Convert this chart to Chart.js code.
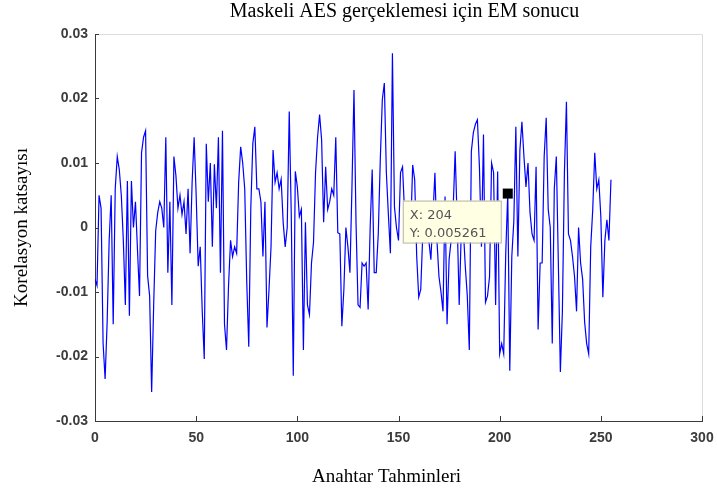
<!DOCTYPE html>
<html>
<head>
<meta charset="utf-8">
<title>Maskeli AES EM sonucu</title>
<script src="https://cdn.jsdelivr.net/npm/chart.js@4.4.0/dist/chart.umd.min.js"></script>
<style>
  body { margin: 0; background: #fff; }
  #em-chart { display: block; }
</style>
</head>
<body>
<canvas id="em-chart" width="717" height="492"></canvas>
<script>
// correlation for each key guess (0..255)
const korelasyon = [
  -0.008, -0.009, 0.005, 0.003, -0.018, -0.0235, -0.0147, -0.002, 0.005, -0.015, 0.006, 0.011, 0.009, 0.005, -0.002, -0.012,
  0.0072, -0.0137, 0.0072, 0.000, 0.004, -0.0035, -0.0106, 0.0116, 0.014, 0.015, -0.0075, -0.0106, -0.0255, -0.012, -0.0005, 0.0023,
  0.004, 0.003, 0.000, 0.014, -0.007, 0.004, -0.012, 0.011, 0.008, 0.003, 0.005, 0.002, 0.004, -0.001, 0.006, -0.004,
  0.007, 0.014, 0.005, -0.006, -0.003, -0.013, -0.0204, 0.013, 0.004, 0.010, -0.003, 0.0098, 0.003, 0.014, -0.007, 0.015,
  -0.015, -0.019, -0.009, -0.002, -0.0045, -0.003, -0.004, 0.007, 0.0125, 0.010, 0.006, -0.0085, -0.0185, 0.003, 0.013, 0.0156,
  0.006, 0.006, 0.004, -0.0045, 0.004, -0.0155, -0.0096, -0.003, 0.012, 0.007, 0.0085, 0.006, 0.0075, 0.0008, -0.003, 0.000,
  0.018, 0.002, -0.023, 0.0087, 0.0063, 0.0017, 0.0028, -0.019, 0.0008, -0.012, -0.0135, -0.0055, -0.0023, 0.0085, 0.014, 0.0175,
  0.0136, 0.0008, 0.0094, 0.0028, 0.004, 0.006, 0.005, 0.014, -0.0008, -0.001, -0.0153, -0.0096, 0.000, -0.003, -0.007, 0.0063,
  0.0213, 0.0008, -0.012, -0.0124, -0.0055, -0.006, -0.0055, -0.0127, 0.000, 0.009, -0.007, -0.007, -0.001, 0.0105, 0.0198, 0.0224,
  0.0085, 0.002, -0.004, 0.027, 0.0032, 0.000, -0.002, 0.0085, 0.0094, 0.0023, -0.001, 0.000, -0.001, 0.0097, 0.0074, -0.0045,
  -0.0108, -0.0096, -0.001, 0.0017, 0.000, -0.002, -0.005, 0.0017, 0.0085, -0.002, -0.0076, -0.010, -0.013, 0.0048, -0.015, -0.005,
  -0.002, 0.0028, 0.0118, 0.001, -0.012, -0.001, 0.000, -0.006, -0.0106, -0.019, 0.0118, 0.0147, 0.016, 0.0167, 0.0094, -0.003,
  0.0144, -0.0116, -0.0106, -0.0076, 0.010, 0.0085, -0.012, 0.0087, -0.0196, -0.018, -0.0196, -0.004, 0.005261, -0.0222, -0.0045, 0.001,
  0.0156, -0.0045, 0.012, 0.0164, 0.011, 0.0063, 0.010, 0.0023, -0.001, -0.002, 0.0094, -0.0158, -0.0055, -0.0055, 0.011, 0.017,
  0.0028, 0.000, -0.018, 0.006, 0.011, -0.0055, -0.0224, -0.013, 0.0085, 0.0195, -0.001, -0.002, -0.0045, -0.0076, -0.013, 0.000,
  -0.0055, -0.008, -0.0147, -0.018, -0.0196, -0.003, 0.0028, 0.0116, 0.006, 0.0074, 0.0017, -0.0108, -0.002, 0.0012, -0.002, 0.0074
];

const xTicks = [0, 50, 100, 150, 200, 250, 300];
const yTicks = [-0.03, -0.02, -0.01, 0, 0.01, 0.02, 0.03];

const chartTitle = 'Maskeli AES gerçeklemesi için EM sonucu';
const xTitle = 'Anahtar Tahminleri';
const yTitle = 'Korelasyon katsayısı';

// data tip shown on the plot
const tipX = 204;
const tipY = 0.005261;

const points = korelasyon.map((v, i) => ({ x: i, y: v }));

const serifFamily = '"Liberation Serif", "Times New Roman", serif';

function formatY(v) {
  if (Math.abs(v) < 1e-9) return '0';
  return v.toFixed(2);
}

const matlabFrame = {
  id: 'matlabFrame',
  afterDraw(chart) {
    const { ctx, chartArea } = chart;
    const xs = chart.scales.x;
    const ys = chart.scales.y;
    const midX = (chartArea.left + chartArea.right) / 2;
    ctx.save();

    // light top/right box edges
    ctx.strokeStyle = '#dcdcdc';
    ctx.lineWidth = 1;
    ctx.beginPath();
    ctx.moveTo(chartArea.left, chartArea.top + 0.5);
    ctx.lineTo(chartArea.right + 0.5, chartArea.top + 0.5);
    ctx.lineTo(chartArea.right + 0.5, chartArea.bottom);
    ctx.stroke();

    // inward ticks
    ctx.strokeStyle = '#3a3a3a';
    ctx.beginPath();
    xTicks.forEach(t => {
      const px = Math.round(xs.getPixelForValue(t)) + 0.5;
      ctx.moveTo(px, chartArea.bottom);
      ctx.lineTo(px, chartArea.bottom - 5);
    });
    yTicks.forEach(t => {
      const py = Math.round(ys.getPixelForValue(t)) + 0.5;
      ctx.moveTo(chartArea.left, py);
      ctx.lineTo(chartArea.left + 4, py);
    });
    ctx.stroke();

    // titles (figure is a bit off-centre in the original)
    ctx.fillStyle = '#000';
    ctx.textAlign = 'center';
    ctx.textBaseline = 'middle';
    ctx.font = '20px ' + serifFamily;
    ctx.fillText(chartTitle, midX + 6, 12);
    ctx.font = '19px ' + serifFamily;
    ctx.fillText(xTitle, midX - 12, 477);

    // data tip marker and box
    const mx = xs.getPixelForValue(tipX);
    const my = ys.getPixelForValue(tipY);
    ctx.fillStyle = '#000';
    ctx.fillRect(mx - 5, my - 5, 10, 10);

    const bw = 98, bh = 42;
    const bx = mx - 7 - bw;
    const by = my + 7;
    ctx.fillStyle = '#ffffe4';
    ctx.fillRect(bx, by, bw, bh);
    ctx.strokeStyle = '#b4b4a0';
    ctx.strokeRect(bx + 0.5, by + 0.5, bw, bh);

    ctx.fillStyle = '#555555';
    ctx.font = '13px "DejaVu Sans"';
    ctx.textBaseline = 'alphabetic';
    ctx.textAlign = 'left';
    ctx.fillText('X: ' + tipX, bx + 7, by + 18);
    ctx.fillText('Y: ' + tipY, bx + 7, by + 36);
    ctx.restore();
  }
};

const tickFont = { family: '"Liberation Sans", Arial, sans-serif', size: 14, weight: 'bold' };

new Chart(document.getElementById('em-chart'), {
  type: 'line',
  data: {
    datasets: [
      {
        label: 'Korelasyon',
        data: points,
        borderColor: '#0000ff',
        borderWidth: 1.2,
        pointRadius: 0,
        tension: 0,
        fill: false
      }
    ]
  },
  options: {
    responsive: false,
    animation: false,
    devicePixelRatio: 1,
    layout: { padding: { top: 34, left: 0, right: 15, bottom: 0 } },
    plugins: {
      legend: { display: false },
      tooltip: { enabled: false },
      title: { display: false }
    },
    scales: {
      x: {
        type: 'linear',
        min: 0,
        max: 300,
        afterBuildTicks: scale => { scale.ticks = xTicks.map(v => ({ value: v })); },
        afterFit: scale => {
          scale.height = 71;
          scale.paddingLeft = 0;
          scale.paddingRight = 0;
        },
        grid: { display: false, drawTicks: false },
        border: { display: true, color: '#3a3a3a', width: 1 },
        ticks: { color: '#3c3c3c', font: tickFont, padding: 9, maxRotation: 0 }
      },
      y: {
        type: 'linear',
        min: -0.03,
        max: 0.03,
        afterBuildTicks: scale => { scale.ticks = yTicks.map(v => ({ value: v })); },
        afterFit: scale => { scale.width = 95; },
        grid: { display: false, drawTicks: false },
        border: { display: true, color: '#3a3a3a', width: 1 },
        ticks: { color: '#3c3c3c', font: tickFont, padding: 7, callback: v => formatY(v) },
        title: {
          display: true,
          text: yTitle,
          color: '#000',
          font: { family: serifFamily, size: 19, weight: 'normal' },
          padding: { top: 11, bottom: 0 }
        }
      }
    }
  },
  plugins: [matlabFrame]
});
</script>
</body>
</html>
